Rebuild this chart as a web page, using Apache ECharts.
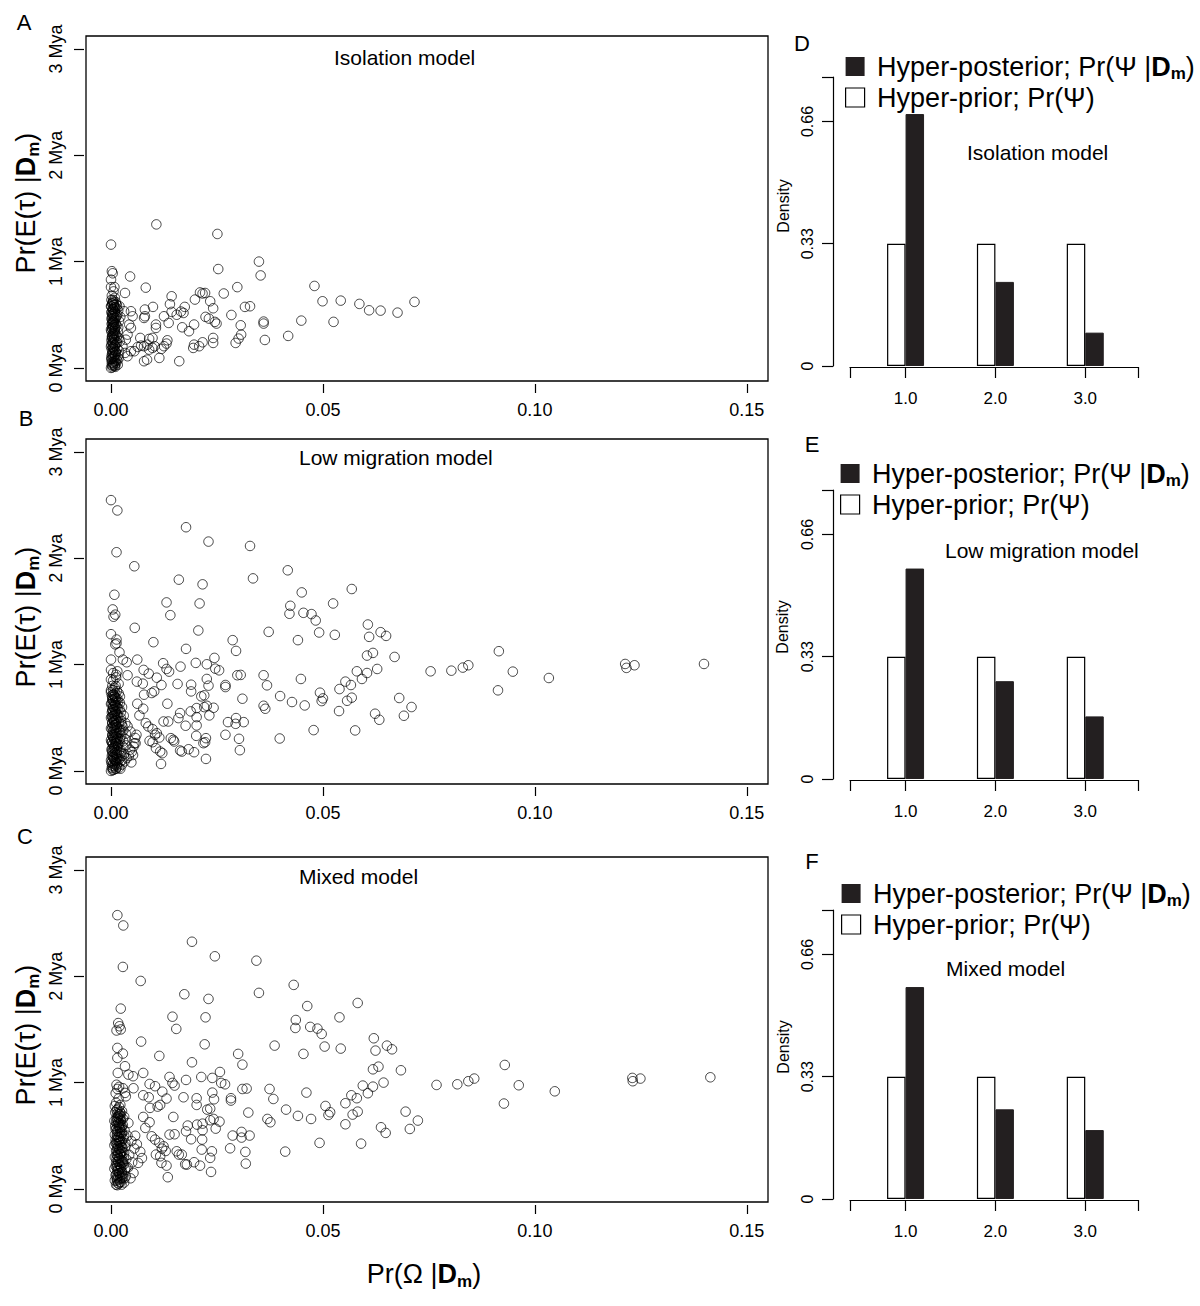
<!DOCTYPE html>
<html lang="en">
<head>
<meta charset="UTF-8">
<title>Hyper-posterior of divergence models</title>
<script src="https://cdn.jsdelivr.net/npm/echarts@6/dist/echarts.min.js"></script>
<style>
  html, body { margin: 0; padding: 0; background: #fff; }
</style>
</head>
<body>
<div id="main" style="width: 1200px;height:1306px;"></div>
<script type="text/javascript">
// ---- data ----
// scatter points: [Pr(Omega|Dm), Pr(E(tau)|Dm) in Mya]
var isolationPts = [
  [0.0107,1.35],[0.0251,1.26],[0.0,1.16],[0.0349,1.0],[0.0002,0.91],[0.0004,0.89],[0.0045,0.86],[0.0253,0.93],
  [0.0353,0.87],[0.0,0.76],[0.0008,0.76],[0.0082,0.755],[0.0033,0.705],[0.0298,0.76],[0.021,0.71],[0.0216,0.70],
  [0.0222,0.705],[0.0266,0.70],[0.0143,0.674],[0.0198,0.643],[0.0234,0.627],[0.0139,0.60],[0.0099,0.574],[0.008,0.549],
  [0.0174,0.574],[0.0165,0.53],[0.0171,0.517],[0.0143,0.527],[0.0125,0.486],[0.0155,0.50],[0.0241,0.561],[0.0316,0.574],
  [0.0328,0.58],[0.0284,0.498],[0.0223,0.48],[0.0231,0.464],[0.0245,0.433],[0.0249,0.417],[0.0306,0.401],[0.036,0.436],
  [0.036,0.417],[0.048,0.771],[0.0499,0.627],[0.0542,0.633],[0.0586,0.602],[0.0609,0.542],[0.0636,0.539],[0.0676,0.52],
  [0.0716,0.621],[0.0525,0.433],[0.0449,0.445],[0.0418,0.301],[0.0363,0.263],[0.0307,0.313],[0.0301,0.276],[0.0294,0.235],
  [0.0241,0.282],[0.0241,0.235],[0.0196,0.408],[0.0184,0.345],[0.0168,0.382],[0.0216,0.241],[0.0208,0.204],[0.0194,0.188],
  [0.0196,0.219],[0.0161,0.063],[0.0133,0.26],[0.0131,0.229],[0.0125,0.204],[0.0119,0.179],[0.0114,0.094],[0.0106,0.408],
  [0.0106,0.376],[0.0136,0.423],[0.0078,0.063],[0.0085,0.078],[0.009,0.172],[0.0071,0.21],[0.0063,0.197],[0.0078,0.204],
  [0.0086,0.219],[0.0098,0.188],[0.009,0.273],[0.0098,0.282],[0.0103,0.204],[0.0069,0.282],[0.008,0.486],[0.0078,0.47],
  [0.0047,0.533],[0.0051,0.486],[0.0043,0.408],[0.0047,0.376],[0.0039,0.313],[0.0033,0.141],[0.0039,0.11],[0.0047,0.157],
  [0.0055,0.157],[0.0031,0.533],[0.002,0.58],[0.0035,0.266],[0.0027,0.204],
  // dense column near zero
  [0,0.0],[0.0004,0.02],[0.001,0.01],[0.0016,0.03],[0.0002,0.05],[0.0008,0.06],[0.0013,0.08],[0.0001,0.1],
  [0.0006,0.11],[0.0017,0.12],[0.0003,0.14],[0.0011,0.15],[0.0007,0.17],[0.0015,0.18],[0.0,0.2],[0.0009,0.21],
  [0.0004,0.23],[0.0014,0.24],[0.0001,0.26],[0.0007,0.27],[0.0018,0.28],[0.0003,0.3],[0.0011,0.31],[0.0006,0.33],
  [0.0016,0.34],[0.0,0.36],[0.0009,0.37],[0.0004,0.39],[0.0013,0.4],[0.0002,0.42],[0.0007,0.43],[0.0019,0.44],
  [0.0003,0.46],[0.0011,0.47],[0.0006,0.49],[0.0015,0.5],[0.0001,0.52],[0.0009,0.53],[0.0004,0.55],[0.0013,0.56],
  [0.0,0.58],[0.0007,0.59],[0.0003,0.61],[0.0011,0.62],[0.0005,0.64],[0.0002,0.68],[0.0006,0.72],[0.0,0.83],
  [0.0015,0.07],[0.0019,0.16],[0.0021,0.25],[0.0017,0.38],[0.0022,0.48],[0.0012,0.6],
  [0.0005,0.035],[0.0012,0.045],[0.0002,0.085],[0.001,0.125],[0.0005,0.19],[0.0012,0.225],[0.0003,0.285],[0.0009,0.345],
  [0.0002,0.375],[0.0011,0.415],[0.0005,0.445],[0.0013,0.485],[0.0003,0.505],[0.0008,0.565],[0.0014,0.59],[0.0005,0.625],
  [0.0009,0.66],[0.0001,0.64],[0.0017,0.54],[0.0018,0.09],[0.0008,0.025],[0.0014,0.3],[0.0006,0.4],
  [0.0003,0.006],[0.0009,0.018],[0.0002,0.027],[0.0007,0.043],[0.0004,0.052],[0.001,0.066],[0.0001,0.079],[0.0008,0.087],
  [0.0005,0.098],[0.0009,0.116],[0.0002,0.124],[0.0006,0.139],[0.0004,0.151],[0.001,0.158],[0.0002,0.176],[0.0007,0.183],
  [0.0004,0.196],[0.0009,0.212],[0.0001,0.219],[0.0006,0.236],[0.0003,0.244],[0.001,0.259],[0.0005,0.268],[0.0008,0.283],
  [0.0002,0.291],[0.0006,0.307],[0.0004,0.318],[0.0009,0.327],[0.0001,0.343],[0.0007,0.351],[0.0003,0.367],[0.001,0.379],
  [0.0005,0.386],[0.0008,0.403],[0.0002,0.411],[0.0006,0.427],[0.0004,0.436],[0.0009,0.451],[0.0001,0.463],[0.0007,0.471],
  [0.0003,0.487],[0.001,0.495],[0.0005,0.508],[0.0008,0.523],[0.0002,0.531],[0.0006,0.547],[0.0004,0.556],[0.0009,0.571],
  [0.0001,0.579],[0.0007,0.594],[0.0003,0.603],[0.0006,0.615]
];

var lowMigrationPts = [
  [0.0,2.547],[0.0015,2.45],[0.0013,2.057],[0.0055,1.925],[0.0177,2.292],[0.023,2.157],[0.0328,2.116],[0.0335,1.811],
  [0.0417,1.887],[0.016,1.799],[0.0216,1.755],[0.0008,1.657],[0.045,1.679],[0.0568,1.711],[0.0131,1.585],[0.0209,1.575],
  [0.0524,1.575],[0.0423,1.553],[0.0421,1.478],[0.0004,1.519],[0.0006,1.45],[0.001,1.47],[0.014,1.465],[0.0454,1.487],
  [0.0473,1.475],[0.0483,1.415],[0.0056,1.346],[0.0206,1.321],[0.0372,1.308],[0.0491,1.302],[0.0528,1.28],[0.0,1.286],
  [0.0013,1.236],[0.001,1.19],[0.0013,1.2],[0.01,1.211],[0.0287,1.23],[0.0441,1.23],[0.0177,1.148],[0.0295,1.129],
  [0.002,1.116],[0.0,1.047],[0.0062,1.047],[0.0028,1.047],[0.0037,1.022],[0.0244,1.063],[0.0123,1.013],[0.02,1.016],
  [0.0226,1.003],[0.0164,0.981],[0.0131,0.959],[0.0137,0.934],[0.0077,0.95],[0.0089,0.915],[0.0108,0.877],[0.0246,0.962],
  [0.0255,0.946],[0.0,0.95],[0.0005,0.92],[0.0012,0.905],[0.0015,0.937],[0.0039,0.9],[0.0298,0.9],[0.0306,0.903],
  [0.036,0.9],[0.0226,0.865],[0.0448,0.865],[0.0061,0.84],[0.0075,0.821],[0.0119,0.808],[0.0157,0.818],[0.0189,0.811],
  [0.0189,0.748],[0.023,0.802],[0.027,0.808],[0.027,0.789],[0.0368,0.805],[0.0,0.758],[0.0096,0.733],[0.0102,0.748],
  [0.0078,0.717],[0.0213,0.701],[0.022,0.711],[0.031,0.679],[0.0399,0.704],[0.0493,0.736],[0.05,0.682],[0.0497,0.657],
  [0.0427,0.648],[0.0457,0.616],[0.0539,0.77],[0.0553,0.84],[0.0566,0.808],[0.0557,0.66],[0.0568,0.689],[0.058,0.937],
  [0.0592,0.865],[0.0604,0.921],[0.0628,0.959],[0.0604,1.085],[0.0618,1.11],[0.0606,1.377],[0.0609,1.261],[0.0636,1.305],
  [0.0649,1.27],[0.0669,1.072],[0.0538,0.563],[0.0576,0.381],[0.0478,0.384],[0.0398,0.305],[0.036,0.613],[0.0364,0.585],
  [0.0623,0.538],[0.0633,0.481],[0.0062,0.632],[0.0076,0.585],[0.0067,0.522],[0.0133,0.632],[0.0202,0.591],[0.022,0.6],
  [0.0226,0.613],[0.0242,0.594],[0.0232,0.522],[0.0163,0.544],[0.0159,0.497],[0.0188,0.56],[0.0202,0.506],[0.0202,0.428],
  [0.0201,0.33],[0.0176,0.425],[0.0124,0.465],[0.0135,0.465],[0.0082,0.45],[0.0088,0.418],[0.0098,0.393],[0.0108,0.355],
  [0.0104,0.34],[0.0114,0.314],[0.0091,0.283],[0.0098,0.27],[0.0106,0.214],[0.0116,0.182],[0.0121,0.167],[0.0118,0.066],
  [0.0141,0.308],[0.0147,0.292],[0.0149,0.277],[0.0163,0.192],[0.0167,0.182],[0.0183,0.204],[0.0196,0.176],[0.0224,0.113],
  [0.0218,0.261],[0.0222,0.27],[0.0224,0.308],[0.027,0.34],[0.0276,0.459],[0.0295,0.497],[0.0294,0.443],[0.0313,0.459],
  [0.0302,0.302],[0.0304,0.195],[0.0039,0.42],[0.0046,0.37],[0.0057,0.31],[0.0058,0.26],[0.006,0.34],[0.0053,0.23],
  [0.0049,0.18],[0.0037,0.12],
  [0.068,0.686],[0.0691,0.519],[0.0709,0.601],[0.0754,0.937],[0.0803,0.943],[0.083,0.972],[0.0843,0.994],[0.0915,1.126],
  [0.0913,0.758],[0.0948,0.934],[0.1033,0.874],[0.1213,1.006],[0.1216,0.969],[0.1235,0.994],[0.1399,1.006],
  // dense column near zero
  [0,0.0],[0.0006,0.01],[0.0012,0.02],[0.0019,0.03],[0.0003,0.05],[0.0009,0.06],[0.0015,0.07],[0.0022,0.09],
  [0.0,0.1],[0.0007,0.11],[0.0013,0.12],[0.0025,0.14],[0.0004,0.15],[0.001,0.17],[0.0018,0.18],[0.0001,0.2],
  [0.0007,0.21],[0.0014,0.22],[0.0028,0.23],[0.0004,0.25],[0.0011,0.26],[0.002,0.27],[0.0,0.29],[0.0008,0.3],
  [0.0016,0.31],[0.0024,0.33],[0.0003,0.34],[0.0012,0.35],[0.0019,0.37],[0.0006,0.38],[0.0,0.4],[0.0014,0.41],
  [0.0027,0.42],[0.0009,0.43],[0.0003,0.45],[0.0018,0.46],[0.0011,0.48],[0.0,0.5],[0.0023,0.5],[0.0006,0.52],
  [0.0015,0.53],[0.0002,0.55],[0.001,0.56],[0.002,0.58],[0.0005,0.6],[0.0013,0.61],[0.0,0.63],[0.0008,0.64],
  [0.0017,0.65],[0.0003,0.67],[0.0011,0.69],[0.0021,0.7],[0.0006,0.72],[0.0,0.74],[0.0014,0.75],[0.0009,0.78],
  [0.0003,0.8],[0.0018,0.82],[0.0005,0.85],[0.0012,0.88],[0.0,0.86],[0.0026,0.6],[0.003,0.52],[0.0029,0.38],
  [0.0033,0.3],[0.0031,0.16],[0.0026,0.06],[0.0034,0.45],[0.0036,0.24],[0.0042,0.14],[0.0045,0.2],[0.0048,0.08],
  [0.0052,0.15],[0.0055,0.26],
  [0.0004,0.025],[0.0015,0.04],[0.0001,0.075],[0.0011,0.095],[0.0019,0.11],[0.0005,0.13],[0.0014,0.16],[0.0003,0.185],
  [0.0021,0.2],[0.001,0.235],[0.0017,0.25],[0.0002,0.27],[0.0013,0.285],[0.0021,0.3],[0.0005,0.32],[0.0009,0.36],
  [0.0022,0.39],[0.0004,0.41],[0.0012,0.44],[0.0024,0.47],[0.0007,0.47],[0.0003,0.51],[0.0017,0.51],[0.0009,0.54],
  [0.0023,0.55],[0.0004,0.57],[0.0016,0.59],[0.0009,0.62],[0.0021,0.64],[0.0004,0.66],[0.0015,0.68],[0.0008,0.7],
  [0.0002,0.71],[0.0018,0.73],[0.0005,0.76],[0.0011,0.8],
  [0.0004,0.008],[0.0011,0.021],[0.0002,0.033],[0.0008,0.044],[0.0014,0.056],[0.0005,0.068],[0.0012,0.081],[0.0003,0.093],
  [0.0009,0.104],[0.0015,0.117],[0.0006,0.128],[0.0002,0.141],[0.0012,0.152],[0.0008,0.164],[0.0004,0.177],[0.0014,0.188],
  [0.001,0.2],[0.0003,0.212],[0.0007,0.224],[0.0016,0.236],[0.0005,0.247],[0.0012,0.259],[0.0002,0.272],[0.0009,0.283],
  [0.0014,0.296],[0.0006,0.307],[0.0011,0.319],[0.0003,0.331],[0.0008,0.343],[0.0015,0.356],[0.0005,0.367],[0.0012,0.379],
  [0.0002,0.392],[0.0009,0.403],[0.0014,0.415],[0.0006,0.427],[0.0011,0.44],[0.0003,0.452],[0.0008,0.463],[0.0013,0.476],
  [0.0005,0.487],[0.001,0.499],[0.0002,0.512],[0.0008,0.523],[0.0013,0.536],[0.0005,0.547],[0.0011,0.559],[0.0003,0.572],
  [0.0008,0.583],[0.0013,0.595],[0.0005,0.607],[0.001,0.619],[0.0002,0.632],[0.0008,0.644],[0.0012,0.656],[0.0005,0.668],
  [0.001,0.68],[0.0003,0.693],[0.0008,0.705],[0.0005,0.718],[0.001,0.73],[0.0022,0.02],[0.0026,0.1],[0.0024,0.17],
  [0.0029,0.28],[0.0021,0.36],[0.0025,0.44],[0.0032,0.09],[0.0035,0.35]
];

var mixedPts = [
  [0.0015,2.575],[0.0029,2.478],[0.0028,2.088],[0.007,1.956],[0.0191,2.325],[0.0245,2.188],[0.0343,2.147],[0.0349,1.844],
  [0.0431,1.919],[0.0173,1.831],[0.023,1.787],[0.0463,1.72],[0.0582,1.749],[0.0145,1.62],[0.0223,1.614],[0.0539,1.614],
  [0.0436,1.589],[0.0435,1.514],[0.0023,1.696],[0.0017,1.56],[0.002,1.53],[0.0013,1.49],[0.0023,1.5],[0.0154,1.505],
  [0.047,1.524],[0.0487,1.508],[0.0497,1.458],[0.0071,1.386],[0.0221,1.36],[0.0386,1.348],[0.0504,1.339],[0.0542,1.32],
  [0.0015,1.326],[0.0028,1.273],[0.0015,1.232],[0.0033,1.154],[0.0114,1.251],[0.03,1.27],[0.0454,1.27],[0.0191,1.191],
  [0.031,1.169],[0.0016,1.091],[0.0076,1.091],[0.0041,1.075],[0.0052,1.06],[0.0257,1.1],[0.0138,1.053],[0.0213,1.053],
  [0.0239,1.044],[0.0177,1.025],[0.0145,0.997],[0.015,0.972],[0.0091,0.987],[0.0104,0.966],[0.0121,0.915],[0.026,0.997],
  [0.0269,0.984],[0.0013,0.98],[0.0019,0.96],[0.0028,0.947],[0.0033,0.903],[0.0035,0.871],[0.0053,0.947],[0.031,0.94],
  [0.032,0.944],[0.0374,0.94],[0.0239,0.906],[0.0461,0.906],[0.0076,0.881],[0.0089,0.862],[0.0131,0.85],[0.0171,0.862],
  [0.0202,0.853],[0.0202,0.79],[0.0243,0.843],[0.0283,0.853],[0.0283,0.831],[0.0383,0.846],[0.011,0.774],[0.0116,0.79],
  [0.0092,0.762],[0.0227,0.746],[0.0234,0.755],[0.0324,0.718],[0.0413,0.746],[0.0506,0.78],[0.0513,0.696],[0.0517,0.721],
  [0.0441,0.687],[0.0472,0.658],[0.0553,0.806],[0.0567,0.881],[0.058,0.853],[0.057,0.699],[0.0582,0.727],[0.0594,0.972],
  [0.0606,0.9],[0.0618,0.962],[0.0643,1.0],[0.0618,1.125],[0.0631,1.15],[0.062,1.417],[0.0624,1.301],[0.0651,1.348],
  [0.0663,1.313],[0.0684,1.116],[0.0553,0.608],[0.059,0.426],[0.0492,0.433],[0.0411,0.351],[0.0369,0.658],[0.0376,0.627],
  [0.0637,0.58],[0.0648,0.527],[0.0076,0.677],[0.0091,0.627],[0.0081,0.574],[0.0147,0.677],[0.0216,0.614],[0.0234,0.646],
  [0.0242,0.658],[0.0256,0.633],[0.0247,0.567],[0.0181,0.596],[0.0177,0.542],[0.0203,0.605],[0.0216,0.552],[0.0215,0.464],
  [0.0214,0.37],[0.0189,0.467],[0.0138,0.511],[0.015,0.514],[0.0096,0.495],[0.0104,0.464],[0.0114,0.433],[0.0124,0.401],
  [0.012,0.379],[0.0129,0.357],[0.0106,0.323],[0.0116,0.307],[0.0119,0.245],[0.0131,0.219],[0.0134,0.11],[0.0155,0.354],
  [0.016,0.323],[0.0167,0.323],[0.0175,0.232],[0.0179,0.229],[0.0196,0.251],[0.021,0.219],[0.0236,0.16],[0.0234,0.292],
  [0.0238,0.354],[0.0281,0.382],[0.0287,0.502],[0.0308,0.536],[0.0308,0.483],[0.0327,0.502],[0.0317,0.348],[0.0318,0.238],
  [0.0057,0.5],[0.0061,0.42],[0.0069,0.35],[0.0073,0.29],[0.0064,0.245],[0.0053,0.15],
  [0.0695,0.727],[0.0705,0.564],[0.0724,0.643],[0.0768,0.978],[0.0817,0.984],[0.0843,1.013],[0.0857,1.038],[0.0929,1.166],
  [0.0927,0.803],[0.0962,0.975],[0.1047,0.918],[0.123,1.044],[0.1231,1.013],[0.1249,1.038],[0.1414,1.05],
  // dense column near zero
  [0.0012,0.04],[0.0018,0.05],[0.0025,0.04],[0.0031,0.06],[0.0009,0.08],[0.0015,0.09],[0.0022,0.1],[0.0028,0.11],
  [0.0035,0.12],[0.0011,0.13],[0.0019,0.15],[0.0026,0.16],[0.0033,0.18],[0.0008,0.19],[0.0014,0.2],[0.0021,0.22],
  [0.003,0.23],[0.0012,0.25],[0.0017,0.26],[0.0025,0.27],[0.0036,0.28],[0.0009,0.3],[0.0016,0.31],[0.0023,0.33],
  [0.0031,0.34],[0.0012,0.36],[0.002,0.37],[0.0027,0.39],[0.0008,0.41],[0.0015,0.42],[0.0034,0.43],[0.0022,0.44],
  [0.0011,0.46],[0.0029,0.47],[0.0018,0.49],[0.0009,0.51],[0.0025,0.52],[0.0014,0.54],[0.0032,0.55],[0.0021,0.57],
  [0.001,0.59],[0.0028,0.6],[0.0016,0.62],[0.0008,0.64],[0.0024,0.65],[0.0013,0.67],[0.0031,0.68],[0.002,0.7],
  [0.001,0.72],[0.0026,0.73],[0.0015,0.75],[0.0009,0.78],[0.0022,0.79],[0.0012,0.81],[0.0018,0.85],[0.0011,0.9],
  [0.0015,0.94],[0.004,0.2],[0.0043,0.32],[0.0039,0.5],[0.0046,0.1],[0.005,0.25],[0.0055,0.38],[0.0041,0.62],
  [0.0048,0.45],
  [0.0015,0.035],[0.0021,0.065],[0.0013,0.105],[0.0027,0.135],[0.0017,0.17],[0.0024,0.2],[0.0011,0.215],[0.0029,0.25],
  [0.0019,0.285],[0.0013,0.32],[0.0027,0.35],[0.0016,0.385],[0.0024,0.41],[0.0011,0.43],[0.0019,0.455],[0.0031,0.5],
  [0.0014,0.49],[0.0022,0.53],[0.0011,0.56],[0.0025,0.58],[0.0019,0.6],[0.0012,0.63],[0.0028,0.66],[0.0017,0.68],
  [0.0023,0.71],[0.0013,0.74],[0.0019,0.77],
  [0.0017,0.052],[0.0023,0.063],[0.0014,0.076],[0.002,0.088],[0.0026,0.099],[0.0016,0.112],[0.0022,0.124],[0.0013,0.136],
  [0.0019,0.148],[0.0025,0.16],[0.0015,0.172],[0.0021,0.184],[0.0017,0.196],[0.0024,0.208],[0.0014,0.221],[0.002,0.232],
  [0.0026,0.244],[0.0016,0.256],[0.0022,0.268],[0.0013,0.281],[0.0019,0.292],[0.0025,0.304],[0.0015,0.316],[0.0021,0.328],
  [0.0017,0.341],[0.0024,0.352],[0.0014,0.364],[0.002,0.377],[0.0026,0.388],[0.0016,0.4],[0.0022,0.412],[0.0013,0.424],
  [0.0019,0.436],[0.0025,0.448],[0.0015,0.461],[0.0021,0.472],[0.0017,0.484],[0.0024,0.497],[0.0014,0.508],[0.002,0.52],
  [0.0026,0.532],[0.0016,0.544],[0.0022,0.557],[0.0013,0.568],[0.0019,0.58],[0.0025,0.592],[0.0015,0.604],[0.0021,0.616],
  [0.0017,0.628],[0.0023,0.64],[0.0014,0.652],[0.002,0.664],[0.0016,0.676],[0.0022,0.688],[0.0018,0.7],[0.0015,0.712],
  [0.0021,0.724],[0.0032,0.1],[0.0036,0.2],[0.003,0.3],[0.0034,0.4]
];

// hyper-parameter Psi histograms
var psiValues = [1, 2, 3];
var priorIsolation = [0.33, 0.33, 0.33];
var postIsolation = [0.68, 0.227, 0.09];
var priorLowMig = [0.33, 0.33, 0.33];
var postLowMig = [0.568, 0.264, 0.169];
var priorMixed = [0.33, 0.33, 0.33];
var postMixed = [0.572, 0.242, 0.186];

// tick labels
var omegaTicks = [0, 0.05, 0.10, 0.15];
var tauTicks = [0, 1, 2, 3];
var densityTicks = [0, 0.33, 0.66];

// ---- styling helpers ----
var FONT = '"Liberation Sans", Arial, Helvetica, sans-serif';
var BX_MIN = 0.3816, BX_MAX = 3.587, BY_MAX = 0.78;

var richBig = {
    n: {fontSize: 27, fontFamily: FONT, color: '#000', lineHeight: 31},
    b: {fontSize: 27, fontFamily: FONT, fontWeight: 'bold', color: '#000', lineHeight: 31},
    s: {fontSize: 17, fontFamily: FONT, fontWeight: 'bold', color: '#000', lineHeight: 14, verticalAlign: 'bottom'}
};

function scatterGrid(top) {
    return {left: 86, top: top, width: 682, height: 345, show: true,
            borderColor: '#000', borderWidth: 1.3, backgroundColor: 'rgba(0,0,0,0)'};
}
function barGrid(top) {
    return {left: 850, top: top, width: 288, height: 289};
}
function scatterX(i) {
    return {
        type: 'value', gridIndex: i, min: -0.0059, max: 0.155, offset: 3,
        axisLine: {show: false, onZero: false}, splitLine: {show: false},
        axisTick: {show: true, customValues: omegaTicks, length: 9, lineStyle: {color: '#000', width: 1.2}},
        axisLabel: {customValues: omegaTicks, formatter: function (v) { return v.toFixed(2); },
                    fontSize: 18, color: '#000', fontFamily: FONT, margin: 17}
    };
}
function scatterY(i) {
    return {
        type: 'value', gridIndex: i, min: -0.123, max: 3.122, offset: 2,
        axisLine: {show: false, onZero: false}, splitLine: {show: false},
        axisTick: {show: true, customValues: tauTicks, length: 10, lineStyle: {color: '#000', width: 1.2}},
        axisLabel: {customValues: tauTicks, rotate: 90, formatter: function (v) { return v + ' Mya'; },
                    fontSize: 18, color: '#000', fontFamily: FONT, margin: 19}
    };
}
function barX(i) {
    return {
        type: 'value', gridIndex: i, min: BX_MIN, max: BX_MAX, offset: 1,
        axisLine: {show: true, onZero: false, lineStyle: {color: '#000', width: 1.2}}, splitLine: {show: false},
        axisTick: {show: true, customValues: [BX_MIN, 1, 2, 3, BX_MAX], length: 11, lineStyle: {color: '#000', width: 1.2}},
        axisLabel: {customValues: psiValues, formatter: function (v) { return v.toFixed(1); },
                    fontSize: 17, color: '#000', fontFamily: FONT, margin: 23}
    };
}
function barY(i) {
    return {
        type: 'value', gridIndex: i, min: 0, max: BY_MAX, offset: 17,
        axisLine: {show: true, onZero: false, lineStyle: {color: '#000', width: 1.2}}, splitLine: {show: false},
        axisTick: {show: true, customValues: [0, 0.33, 0.66, BY_MAX], length: 11, lineStyle: {color: '#000', width: 1.2}},
        axisLabel: {customValues: densityTicks, rotate: 90,
                    formatter: function (v) { return v === 0 ? '0' : v.toFixed(2); },
                    fontSize: 16, color: '#000', fontFamily: FONT, margin: 18}
    };
}
function scatterSeries(i, pts) {
    return {
        type: 'scatter', xAxisIndex: i, yAxisIndex: i, data: pts, symbol: 'circle', symbolSize: 9.5,
        itemStyle: {color: 'rgba(0,0,0,0)', borderColor: '#000', borderWidth: 0.9},
        silent: true, animation: false
    };
}
function pairs(vals) {
    return vals.map(function (v, k) { return [psiValues[k], v]; });
}
function barSeries(i, name, vals, posterior) {
    return {
        type: 'bar', name: name, xAxisIndex: i, yAxisIndex: i, data: pairs(vals),
        barWidth: 18.5, barGap: '0%',
        itemStyle: posterior ? {color: '#231f20', borderColor: '#231f20', borderWidth: 1}
                             : {color: '#fff', borderColor: '#000', borderWidth: 1.2},
        silent: true, animation: false
    };
}
function legendFor(tag, left, top) {
    return {
        orient: 'vertical', left: left, top: top, padding: 0, itemGap: 0,
        itemWidth: 19, itemHeight: 19, icon: 'rect', selectedMode: false,
        data: [
            {name: 'post_' + tag, itemStyle: {color: '#231f20', borderWidth: 0}},
            {name: 'prior_' + tag, itemStyle: {color: '#fff', borderColor: '#000', borderWidth: 1.2}}
        ],
        formatter: function (name) {
            return name.indexOf('post_') === 0
                ? '{n| Hyper-posterior; Pr(\u03A8 |}{b|D}{s|m}{n|)}'
                : '{n| Hyper-prior; Pr(\u03A8)}';
        },
        textStyle: {fontSize: 27, lineHeight: 31, fontFamily: FONT, color: '#000', rich: richBig}
    };
}
function txt(x, y, text, size, opts) {
    opts = opts || {};
    return {
        type: 'text', x: x, y: y, rotation: opts.rot || 0, silent: true,
        style: {text: text, fontSize: size, fontFamily: FONT, fill: '#000',
                align: opts.align || 'center', verticalAlign: 'middle', rich: opts.rich}
    };
}

var yTitle = '{n|Pr(E(\u03C4) |}{b|D}{s|m}{n|)}';
var xTitle = '{n|Pr(\u03A9 |}{b|D}{s|m}{n|)}';
var ROT = Math.PI / 2;

var myChart = echarts.init(document.getElementById('main'), null, {renderer: 'svg'});

var option = {
    backgroundColor: '#fff',
    animation: false,
    grid: [scatterGrid(36), scatterGrid(439), scatterGrid(857), barGrid(77), barGrid(490), barGrid(910)],
    xAxis: [scatterX(0), scatterX(1), scatterX(2), barX(3), barX(4), barX(5)],
    yAxis: [scatterY(0), scatterY(1), scatterY(2), barY(3), barY(4), barY(5)],
    legend: [legendFor('D', 845, 51), legendFor('E', 840, 458), legendFor('F', 841, 878)],
    series: [
        scatterSeries(0, isolationPts),
        scatterSeries(1, lowMigrationPts),
        scatterSeries(2, mixedPts),
        barSeries(3, 'prior_D', priorIsolation, false),
        barSeries(3, 'post_D', postIsolation, true),
        barSeries(4, 'prior_E', priorLowMig, false),
        barSeries(4, 'post_E', postLowMig, true),
        barSeries(5, 'prior_F', priorMixed, false),
        barSeries(5, 'post_F', postMixed, true)
    ],
    graphic: [
        // panel letters
        txt(24, 22, 'A', 22), txt(26, 418, 'B', 22), txt(25, 836, 'C', 22),
        txt(802, 43, 'D', 22), txt(812, 444, 'E', 22), txt(812, 861, 'F', 22),
        // model names
        txt(334, 57, 'Isolation model', 21, {align: 'left'}),
        txt(299, 457, 'Low migration model', 21, {align: 'left'}),
        txt(299, 876, 'Mixed model', 21, {align: 'left'}),
        txt(967, 152, 'Isolation model', 21, {align: 'left'}),
        txt(945, 550, 'Low migration model', 21, {align: 'left'}),
        txt(946, 968, 'Mixed model', 21, {align: 'left'}),
        // axis titles
        txt(26, 203, yTitle, 27, {rot: ROT, rich: richBig}),
        txt(26, 617, yTitle, 27, {rot: ROT, rich: richBig}),
        txt(26, 1035, yTitle, 27, {rot: ROT, rich: richBig}),
        txt(424, 1274, xTitle, 27, {rich: richBig}),
        txt(783, 206, 'Density', 16, {rot: ROT}),
        txt(782, 627, 'Density', 16, {rot: ROT}),
        txt(783, 1047, 'Density', 16, {rot: ROT})
    ]
};

myChart.setOption(option);
</script>
</body>
</html>
